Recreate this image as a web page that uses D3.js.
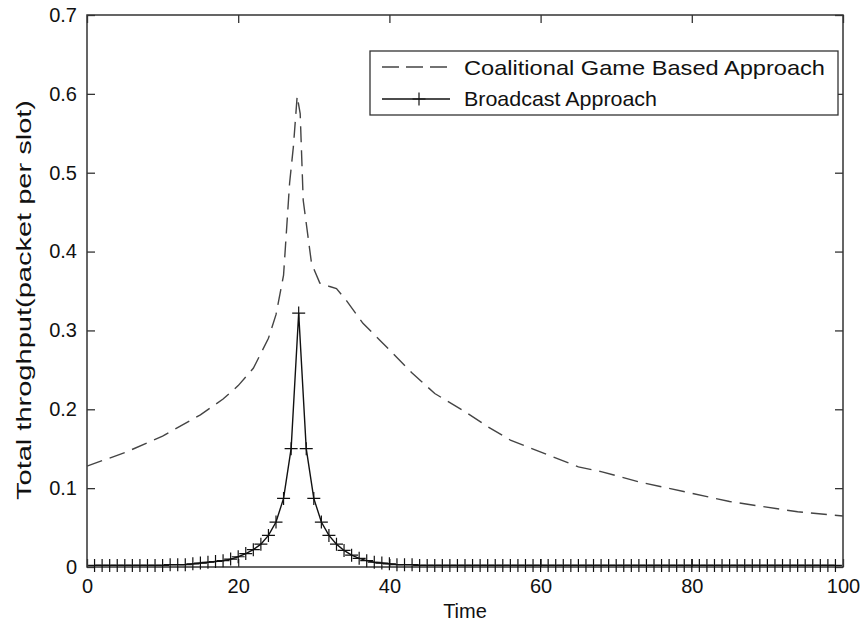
<!DOCTYPE html>
<html>
<head>
<meta charset="utf-8">
<script src="https://cdn.jsdelivr.net/npm/d3@7"></script>
<style>
  body { margin: 0; background: #fff; }
  text { font-family: "Liberation Sans", Arial, sans-serif; fill: #111; }
</style>
</head>
<body>
<div id="chart"></div>
<script>
// coalitional game curve
var coalTime = [0, 5, 10, 15, 18, 20, 22, 24, 25, 26, 26.8, 27.3, 27.8, 28.2, 28.6, 29.7, 30.8, 32, 33, 34.3, 36.5, 38.7, 43, 46, 50, 53, 56, 61, 65, 68, 73, 77, 85, 94, 100];
var coalValue = [0.128, 0.145, 0.166, 0.193, 0.213, 0.230, 0.252, 0.290, 0.320, 0.370, 0.487, 0.533, 0.597, 0.575, 0.465, 0.385, 0.360, 0.356, 0.353, 0.338, 0.309, 0.288, 0.246, 0.220, 0.197, 0.178, 0.161, 0.142, 0.127, 0.121, 0.108, 0.0997, 0.083, 0.070, 0.0646];

// broadcast curve, one point per time slot 1..99
var bcTime = d3.range(1, 100);
var bcLeft = [0.002, 0.002, 0.002, 0.002, 0.002, 0.002, 0.002, 0.002, 0.002, 0.002, 0.003, 0.003, 0.003, 0.004, 0.005, 0.006, 0.007, 0.008, 0.010, 0.013, 0.017, 0.022, 0.029, 0.040, 0.057, 0.087, 0.150]; // t = 1..27
var bcPeak = 0.322; // t = 28
var bcRight = [0.150, 0.087, 0.057, 0.040, 0.029, 0.021, 0.015, 0.011, 0.008, 0.006, 0.005, 0.004, 0.003, 0.003, 0.003, 0.002]; // t = 29..44
var bcTail = 0.002; // t = 45..99

var xTicks = [0, 20, 40, 60, 80, 100];
var yTicks = [0, 0.1, 0.2, 0.3, 0.4, 0.5, 0.6, 0.7];

var legendLabels = ["Coalitional Game Based Approach", "Broadcast Approach"];

var svgWidth = 863, svgHeight = 630;
var margin = {top: 15, right: 20, bottom: 63, left: 87};
var chartWidth = svgWidth - margin.left - margin.right;
var chartHeight = svgHeight - margin.top - margin.bottom;

var bcValue = bcTime.map(function(t) {
  if (t < 28) return bcLeft[t - 1];
  if (t === 28) return bcPeak;
  var i = t - 29;
  return i < bcRight.length ? bcRight[i] : bcTail;
});

var svg = d3.select("#chart").append("svg").attr("width", svgWidth).attr("height", svgHeight);
var g = svg.append("g").attr("transform", `translate(${margin.left}, ${margin.top})`);

var xScale = d3.scaleLinear().domain([0, 100]).range([0, chartWidth]);
var yScale = d3.scaleLinear().domain([0, 0.7]).range([chartHeight, 0]);

var axisColor = "#333";

// axes, ticks inward like matlab
var bottomAxis = d3.axisBottom(xScale).tickValues(xTicks).tickSizeInner(-8).tickSizeOuter(0).tickPadding(12).tickFormat(d3.format("d"));
var leftAxis = d3.axisLeft(yScale).tickValues(yTicks).tickSizeInner(-8).tickSizeOuter(0).tickPadding(10).tickFormat(d => d === 0 ? "0" : d3.format(".1f")(d));
var topAxis = d3.axisTop(xScale).tickValues(xTicks).tickSizeInner(-8).tickSizeOuter(0).tickFormat("");
var rightAxis = d3.axisRight(yScale).tickValues(yTicks).tickSizeInner(-8).tickSizeOuter(0).tickFormat("");

function styleAxis(sel) {
  sel.select(".domain").remove();
  sel.selectAll("line").attr("stroke", axisColor).attr("stroke-width", 1.3);
  sel.selectAll("text").style("font-size", "20px").attr("fill", "#111");
}

g.append("g").attr("transform", `translate(0, ${chartHeight})`).call(bottomAxis).call(styleAxis);
g.append("g").call(leftAxis).call(styleAxis);
g.append("g").call(topAxis).call(styleAxis);
g.append("g").attr("transform", `translate(${chartWidth}, 0)`).call(rightAxis).call(styleAxis);

g.append("rect")
  .attr("width", chartWidth).attr("height", chartHeight)
  .attr("fill", "none").attr("stroke", axisColor).attr("stroke-width", 1.5);

// lines
var line = d3.line().x(d => xScale(d[0])).y(d => yScale(d[1]));

g.append("path")
  .datum(coalTime.map((t, i) => [t, coalValue[i]]))
  .attr("d", line)
  .attr("fill", "none").attr("stroke", "#444").attr("stroke-width", 1.4)
  .attr("stroke-dasharray", "16,8");

var bcData = bcTime.map((t, i) => [t, bcValue[i]]);
g.append("path")
  .datum(bcData)
  .attr("d", line)
  .attr("fill", "none").attr("stroke", "#111").attr("stroke-width", 1.4);

// "+" markers
g.selectAll(".marker").data(bcData).enter()
  .append("path")
  .attr("class", "marker")
  .attr("transform", d => `translate(${xScale(d[0])}, ${yScale(d[1])})`)
  .attr("d", "M-6.5,0H6.5M0,-6.5V6.5")
  .attr("stroke", "#111").attr("stroke-width", 1.2).attr("fill", "none");

// axis titles
svg.append("text")
  .attr("x", margin.left + chartWidth / 2).attr("y", 618)
  .attr("text-anchor", "middle")
  .style("font-size", "20px")
  .text("Time");

svg.append("text")
  .attr("transform", "translate(31, 300) rotate(-90)")
  .attr("text-anchor", "middle")
  .attr("textLength", 400).attr("lengthAdjust", "spacingAndGlyphs")
  .style("font-size", "20px")
  .text("Total throghput(packet per slot)");

// legend
var legend = svg.append("g");
legend.append("rect")
  .attr("x", 370).attr("y", 51).attr("width", 468).attr("height", 64)
  .attr("fill", "#fff").attr("stroke", axisColor).attr("stroke-width", 1.3);

legend.append("line")
  .attr("x1", 382).attr("x2", 450).attr("y1", 67).attr("y2", 67)
  .attr("stroke", "#444").attr("stroke-width", 1.4).attr("stroke-dasharray", "17,7");
legend.append("line")
  .attr("x1", 382).attr("x2", 450).attr("y1", 99).attr("y2", 99)
  .attr("stroke", "#111").attr("stroke-width", 1.4);
legend.append("path")
  .attr("transform", "translate(419, 99)")
  .attr("d", "M-6.5,0H6.5M0,-6.5V6.5")
  .attr("stroke", "#111").attr("stroke-width", 1.2);

legend.selectAll(".legtext").data(legendLabels).enter()
  .append("text")
  .attr("class", "legtext")
  .attr("x", 464)
  .attr("y", (d, i) => 75 + i * 31)
  .style("font-size", "21px")
  .attr("textLength", (d, i) => i === 0 ? 361 : 193)
  .attr("lengthAdjust", "spacingAndGlyphs")
  .text(d => d);
</script>
</body>
</html>
